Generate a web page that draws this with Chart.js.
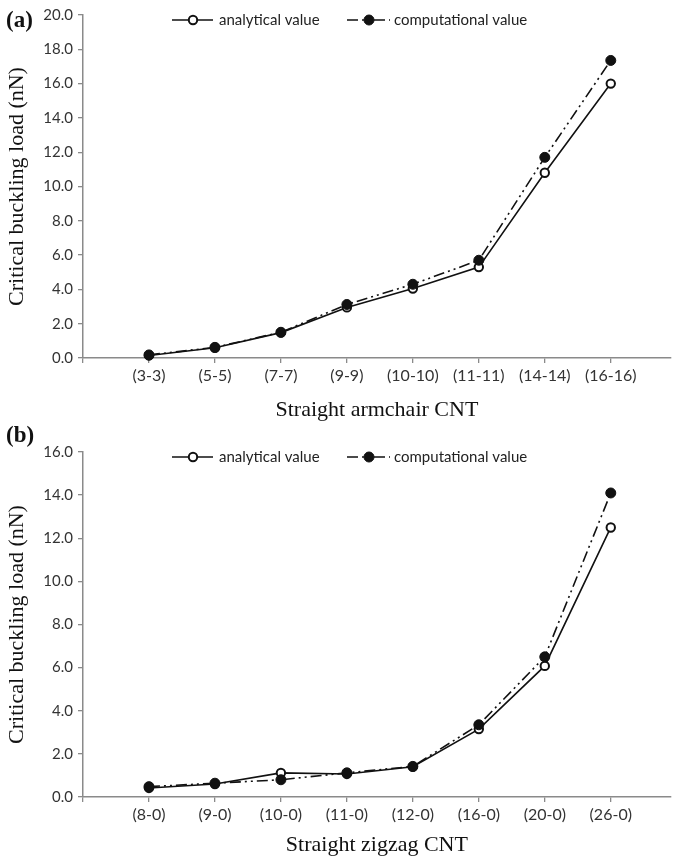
<!DOCTYPE html>
<html>
<head>
<meta charset="utf-8">
<script src="https://cdn.jsdelivr.net/npm/chart.js@4.4.1/dist/chart.umd.min.js"></script>
<style>
  body { margin: 0; background: #fff; width: 677px; height: 863px; position: relative; overflow: hidden; }
  canvas { position: absolute; left: 0; }
  .tag { position: absolute; left: 6px; font: bold 23px "Liberation Serif", "Times New Roman", serif; color: #111; z-index: 2; line-height: 26px; }
</style>
</head>
<body>
<canvas id="chartA" width="677" height="430" style="top:0"></canvas>
<canvas id="chartB" width="677" height="438" style="top:425px"></canvas>
<div class="tag" style="top:7px">(a)</div>
<div class="tag" style="top:422px">(b)</div>
<script>
// values (nN)
const armchairLabels = ['(3-3)', '(5-5)', '(7-7)', '(9-9)', '(10-10)', '(11-11)', '(14-14)', '(16-16)'];
const armchairAnalytical = [0.15, 0.6, 1.48, 2.95, 4.05, 5.3, 10.8, 16.0];
const armchairComputational = [0.18, 0.62, 1.5, 3.12, 4.3, 5.7, 11.7, 17.35];

const zigzagLabels = ['(8-0)', '(9-0)', '(10-0)', '(11-0)', '(12-0)', '(16-0)', '(20-0)', '(26-0)'];
const zigzagAnalytical = [0.42, 0.6, 1.12, 1.07, 1.4, 3.15, 6.08, 12.5];
const zigzagComputational = [0.48, 0.64, 0.8, 1.12, 1.42, 3.35, 6.5, 14.1];

const dashDotDot = [11, 4, 2, 4, 2, 4];
const axisGrey = '#8a8a8a';

// legend drawn as line + marker + text, like the excel one
const legendLines = {
  id: 'legendLines',
  afterDraw(chart, args, opts) {
    const ctx = chart.ctx;
    ctx.save();
    chart.data.datasets.forEach((ds, i) => {
      const it = opts.items[i];
      ctx.strokeStyle = ds.borderColor;
      ctx.lineWidth = ds.borderWidth;
      ctx.setLineDash(ds.borderDash || []);
      ctx.beginPath();
      ctx.moveTo(it.x0, opts.y);
      ctx.lineTo(it.x1, opts.y);
      ctx.stroke();
      ctx.setLineDash([]);
      ctx.beginPath();
      ctx.arc(it.mx, opts.y, ds.pointRadius, 0, Math.PI * 2);
      ctx.fillStyle = ds.pointBackgroundColor;
      ctx.fill();
      ctx.lineWidth = ds.pointBorderWidth;
      ctx.strokeStyle = ds.pointBorderColor;
      ctx.stroke();
      ctx.fillStyle = '#222';
      ctx.font = '15px Lato';
      ctx.textBaseline = 'middle';
      ctx.fillText(ds.label, it.tx, opts.y);
    });
    ctx.restore();
  }
};

function buildChart(id, labels, analytical, computational, yMax, xTitle, box) {
  return new Chart(document.getElementById(id), {
    type: 'line',
    data: {
      datasets: [{
        label: 'analytical value',
        data: analytical.map((v, i) => ({ x: i + 1, y: v })),
        borderColor: '#111',
        borderWidth: 1.6,
        pointRadius: 4.2,
        pointBorderWidth: 2,
        pointBackgroundColor: '#fff',
        pointBorderColor: '#111',
        order: 1,
        clip: false
      }, {
        label: 'computational value',
        data: computational.map((v, i) => ({ x: i + 1, y: v })),
        borderColor: '#111',
        borderWidth: 1.6,
        borderDash: dashDotDot,
        pointRadius: 5,
        pointBorderWidth: 1,
        pointBackgroundColor: '#111',
        pointBorderColor: '#111',
        order: 0,
        clip: false
      }]
    },
    options: {
      responsive: false,
      animation: false,
      devicePixelRatio: 1,
      layout: { padding: { top: box.top, left: 0, right: 0, bottom: 0 } },
      plugins: {
        legend: { display: false },
        tooltip: { enabled: false },
        legendLines: {
          y: box.legendY,
          items: [{ x0: 172, x1: 213, mx: 193, tx: 219 }, { x0: 347, x1: 390, mx: 369, tx: 394 }]
        }
      },
      scales: {
        x: {
          type: 'linear',
          min: 0,
          max: 8.91,
          afterFit(s) { s.height = box.xHeight; },
          ticks: {
            stepSize: 1, includeBounds: false, autoSkip: false, maxRotation: 0,
            padding: 3, color: '#333', font: { family: 'Lato', size: 16 },
            callback: v => labels[v - 1] || ''
          },
          grid: { drawOnChartArea: false, drawTicks: true, tickLength: 5, color: axisGrey, lineWidth: 1.3 },
          border: { color: axisGrey, width: 1.5 },
          title: {
            display: true, text: xTitle, color: '#111',
            font: { family: 'Liberation Serif', size: 22 },
            padding: { top: 0, bottom: box.titlePad }
          }
        },
        y: {
          min: 0,
          max: yMax,
          afterFit(s) { s.width = 83; },
          ticks: { stepSize: 2, padding: 5, color: '#333', font: { family: 'Lato', size: 15 }, callback: v => v.toFixed(1) },
          grid: { drawOnChartArea: false, drawTicks: true, tickLength: 5, color: axisGrey, lineWidth: 1.3 },
          border: { color: axisGrey, width: 1.5 },
          title: {
            display: true, text: 'Critical buckling load (nN)', color: '#111',
            font: { family: 'Liberation Serif', size: 22 },
            padding: { top: 4, bottom: 0 }
          }
        }
      }
    },
    plugins: [legendLines]
  });
}

buildChart('chartA', armchairLabels, armchairAnalytical, armchairComputational, 20,
  'Straight armchair CNT', { top: 15, xHeight: 72, titlePad: 6.5, legendY: 20 });
buildChart('chartB', zigzagLabels, zigzagAnalytical, zigzagComputational, 16,
  'Straight zigzag CNT', { top: 27, xHeight: 66, titlePad: 4.5, legendY: 32 });
</script>
</body>
</html>
